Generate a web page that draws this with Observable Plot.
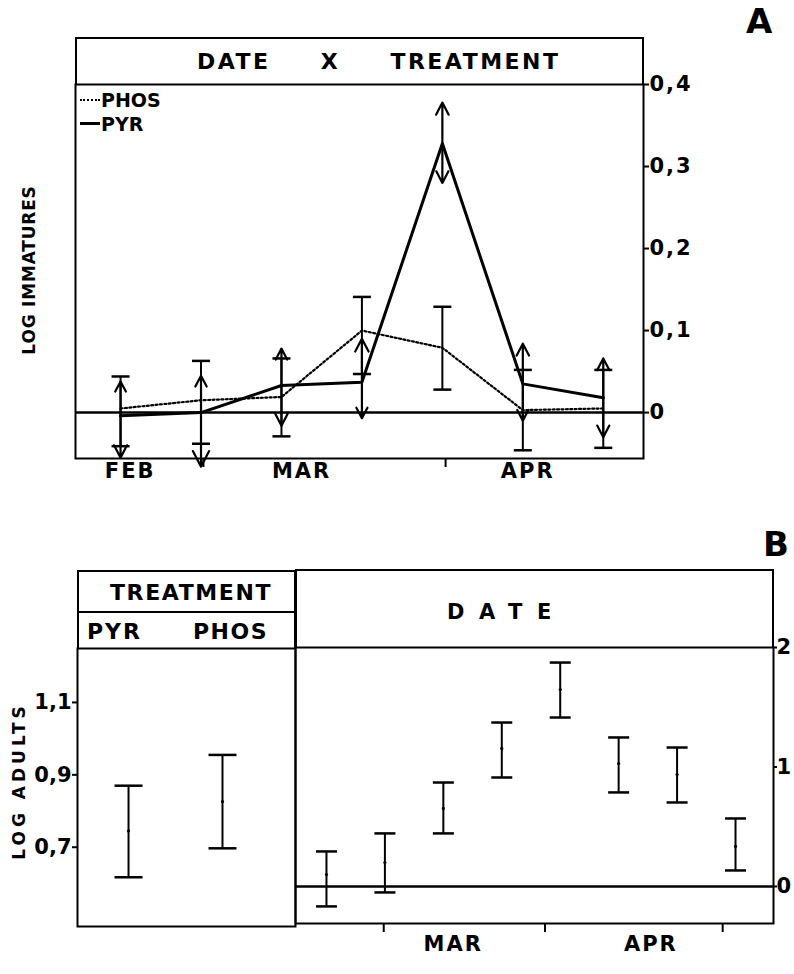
<!DOCTYPE html>
<html>
<head>
<meta charset="utf-8">
<script src="https://cdn.jsdelivr.net/npm/d3@7"></script>
<script src="https://cdn.jsdelivr.net/npm/@observablehq/plot@0.6"></script>
<style>
  body { margin: 0; background: #fff; }
  #fig { position: relative; width: 794px; height: 974px; overflow: hidden;
         font-family: "DejaVu Sans", "Liberation Sans", Arial, sans-serif; font-weight: bold; color: #000; background: #fff; }
  .abs { position: absolute; white-space: pre; line-height: 1; }
  .box { position: absolute; box-sizing: border-box; border: 2px solid #000; }
  .rot { position: absolute; white-space: nowrap; line-height: 1; transform: translate(-50%, -50%) rotate(-90deg); }
</style>
</head>
<body>
<div id="fig">
  <div class="abs" style="left:746px; top:4px; font-size:34px;">A</div>
  <div class="box" style="left:75px; top:37px; width:569px; height:48px; border-bottom:none;"></div>
  <div class="abs" style="left:197px; top:51px; font-size:22px; letter-spacing:2.5px; word-spacing:40px;">DATE X TREATMENT</div>
  <div class="rot" style="left:29px; top:270px; font-size:17px; letter-spacing:0.8px;">LOG IMMATURES</div>

  <div class="abs" style="left:80px; top:99px; width:20px; border-top:2px dotted #000;"></div>
  <div class="abs" style="left:101px; top:91px; font-size:19px;">PHOS</div>
  <div class="abs" style="left:80px; top:122px; width:20px; border-top:3px solid #000;"></div>
  <div class="abs" style="left:101px; top:115px; font-size:19px;">PYR</div>

  <div class="abs" style="left:763px; top:527px; font-size:34px;">B</div>
  <div class="box" style="left:77px; top:570px; width:219px; height:43px;"></div>
  <div class="abs" style="left:110px; top:582px; font-size:22px; letter-spacing:1.6px;">TREATMENT</div>
  <div class="box" style="left:77px; top:611px; width:219px; height:38px; border-top:none; border-bottom:none;"></div>
  <div id="treatHead"></div>
  <div class="box" style="left:295px; top:569px; width:479px; height:79px; border-bottom:none;"></div>
  <div class="abs" style="left:447px; top:602px; font-size:21px; letter-spacing:14.5px;">DATE</div>
  <div class="rot" style="left:19px; top:781px; font-size:17px; letter-spacing:4px;">LOG ADULTS</div>
</div>
<script>
// Panel A: log immatures by sampling date for each treatment (interaction means)
const samplesA = [0, 1, 2, 3, 4, 5, 6];
const phosMeanA = [0.005, 0.015, 0.019, 0.100, 0.079, 0.003, 0.005];
const phosLowA  = [-0.041, -0.038, -0.029, 0.047, 0.028, -0.046, -0.043];
const phosHighA = [0.044, 0.063, 0.066, 0.141, 0.129, 0.052, 0.052];
const pyrMeanA  = [-0.004, 0.000, 0.033, 0.037, 0.328, 0.035, 0.018];
const pyrLowA   = [-0.055, -0.066, -0.016, -0.007, 0.280, -0.010, -0.030];
const pyrHighA  = [0.038, 0.045, 0.078, 0.090, 0.378, 0.084, 0.066];
const yTicksA = [0, 0.1, 0.2, 0.3, 0.4];
const monthsA = ["FEB", "MAR", "APR"];
const monthMidA = [0.12, 2.25, 5.06];
const monthEdgeA = [1.03, 4.04];

// Panel B left: log adults by treatment
const treatments = ["PYR", "PHOS"];
const treatMean = [0.745, 0.826];
const treatLow  = [0.617, 0.697];
const treatHigh = [0.870, 0.955];
const yTicksBL = [0.7, 0.9, 1.1];

// Panel B right: log adults by sampling date
const samplesB = [0, 1, 2, 3, 4, 5, 6, 7];
const dateMeanB = [0.10, 0.20, 0.653, 1.155, 1.648, 1.029, 0.937, 0.335];
const dateLowB  = [-0.167, -0.05, 0.444, 0.912, 1.414, 0.787, 0.703, 0.134];
const dateHighB = [0.293, 0.444, 0.870, 1.372, 1.874, 1.247, 1.163, 0.569];
const yTicksBR = [0, 1, 2];
const monthsB = ["MAR", "APR"];
const monthMidB = [2.17, 5.55];
const monthEdgeB = [0.98, 3.74, 6.78];

const comma = d => String(d).replace(".", ",");
const font = '"DejaVu Sans", "Liberation Sans", Arial, sans-serif';
const styleWith = (spacing) => ({fontFamily: font, fontSize: "21px", fontWeight: "bold", letterSpacing: spacing,
                   color: "#000", overflow: "visible", background: "none"});

// horizontal cap drawn as a dot symbol; r is the half-width in pixels
const cap = {draw(context, size) { const r = Math.sqrt(size / Math.PI); context.moveTo(-r, 0); context.lineTo(r, 0); }};

function place(svg, left, top) {
  Object.assign(svg.style, {position: "absolute", left: left + "px", top: top + "px"});
  document.getElementById("fig").appendChild(svg);
}

const rowsA = samplesA.map((s, k) => ({
  s, phos: phosMeanA[k], phosLo: phosLowA[k], phosHi: phosHighA[k],
  pyr: pyrMeanA[k], pyrLo: pyrLowA[k], pyrHi: pyrHighA[k]
}));

const plotA = Plot.plot({
  width: 794, height: 416,
  marginTop: 10, marginRight: 151, marginBottom: 32, marginLeft: 75,
  x: {domain: [-0.56, 6.5], label: null},
  y: {domain: [-0.056, 0.4], label: null},
  style: styleWith("2px"),
  marks: [
    Plot.frame({strokeWidth: 2}),
    Plot.ruleY([0], {strokeWidth: 2.5}),
    Plot.axisY({anchor: "right", ticks: yTicksA, tickFormat: comma, tickSize: 5, tickPadding: 1, strokeWidth: 2, label: null}),
    Plot.axisX({ticks: monthEdgeA, tickSize: 9, tickFormat: () => "", strokeWidth: 2, label: null}),
    Plot.axisX({ticks: monthMidA, tickSize: 0, tickPadding: 5, tickFormat: (d, k) => monthsA[k], label: null}),
    Plot.line(rowsA, {x: "s", y: "phos", strokeWidth: 2.2, strokeDasharray: "2,2.4"}),
    Plot.line(rowsA, {x: "s", y: "pyr", strokeWidth: 3}),
    Plot.ruleX(rowsA, {x: "s", y1: "phosLo", y2: "phosHi", strokeWidth: 2}),
    Plot.dot(rowsA, {x: "s", y: "phosLo", symbol: cap, r: 9, fill: "none", stroke: "black", strokeWidth: 2.5}),
    Plot.dot(rowsA, {x: "s", y: "phosHi", symbol: cap, r: 9, fill: "none", stroke: "black", strokeWidth: 2.5}),
    Plot.arrow(rowsA, {x: "s", y1: "pyr", y2: "pyrHi", strokeWidth: 2.2, headLength: 12, headAngle: 55}),
    Plot.arrow(rowsA, {x: "s", y1: "pyr", y2: "pyrLo", strokeWidth: 2.2, headLength: 12, headAngle: 55})
  ]
});
place(plotA, 0, 74);

// treatment names in the header row
const head = document.getElementById("treatHead");
[[87, treatments[0], 2], [193, treatments[1], 1.5]].forEach(([left, name, ls]) => {
  const el = document.createElement("div");
  el.className = "abs";
  el.style.cssText = `left:${left}px; top:621px; font-size:22px; letter-spacing:${ls}px;`;
  el.textContent = name;
  head.appendChild(el);
});

const rowsBL = treatments.map((t, k) => ({k, mean: treatMean[k], lo: treatLow[k], hi: treatHigh[k]}));
const plotBL = Plot.plot({
  width: 296, height: 336,
  marginTop: 10, marginRight: 1, marginBottom: 48, marginLeft: 77,
  x: {domain: [-0.543, 1.777], axis: null},
  y: {domain: [0.481, 1.249], label: null},
  style: styleWith("0px"),
  marks: [
    Plot.frame({strokeWidth: 2}),
    Plot.axisY({anchor: "left", ticks: yTicksBL, tickFormat: comma, tickSize: 5, tickPadding: 1, strokeWidth: 2, label: null}),
    Plot.ruleX(rowsBL, {x: "k", y1: "lo", y2: "hi", strokeWidth: 2}),
    Plot.dot(rowsBL, {x: "k", y: "lo", symbol: cap, r: 14, fill: "none", stroke: "black", strokeWidth: 2.5}),
    Plot.dot(rowsBL, {x: "k", y: "hi", symbol: cap, r: 14, fill: "none", stroke: "black", strokeWidth: 2.5}),
    Plot.dot(rowsBL, {x: "k", y: "mean", r: 1.6, fill: "black"})
  ]
});
place(plotBL, 0, 638);

const rowsBR = samplesB.map((s, k) => ({s, mean: dateMeanB[k], lo: dateLowB[k], hi: dateHighB[k]}));
const plotBR = Plot.plot({
  width: 509, height: 337,
  marginTop: 10, marginRight: 21, marginBottom: 51, marginLeft: 10,
  x: {domain: [-0.53, 7.65], label: null},
  y: {domain: [-0.31, 2.0], label: null},
  style: styleWith("2px"),
  marks: [
    Plot.frame({strokeWidth: 2}),
    Plot.ruleY([0], {strokeWidth: 2.5}),
    Plot.axisY({anchor: "right", ticks: yTicksBR, tickFormat: comma, tickSize: 3, tickPadding: 0, strokeWidth: 2, label: null}),
    Plot.axisX({ticks: monthEdgeB, tickSize: 9, tickFormat: () => "", strokeWidth: 2, label: null}),
    Plot.axisX({ticks: monthMidB, tickSize: 0, tickPadding: 13, tickFormat: (d, k) => monthsB[k], label: null}),
    Plot.ruleX(rowsBR, {x: "s", y1: "lo", y2: "hi", strokeWidth: 2}),
    Plot.dot(rowsBR, {x: "s", y: "lo", symbol: cap, r: 10.5, fill: "none", stroke: "black", strokeWidth: 2.5}),
    Plot.dot(rowsBR, {x: "s", y: "hi", symbol: cap, r: 10.5, fill: "none", stroke: "black", strokeWidth: 2.5}),
    Plot.dot(rowsBR, {x: "s", y: "mean", r: 1.6, fill: "black"})
  ]
});
place(plotBR, 285, 637);
</script>
</body>
</html>
